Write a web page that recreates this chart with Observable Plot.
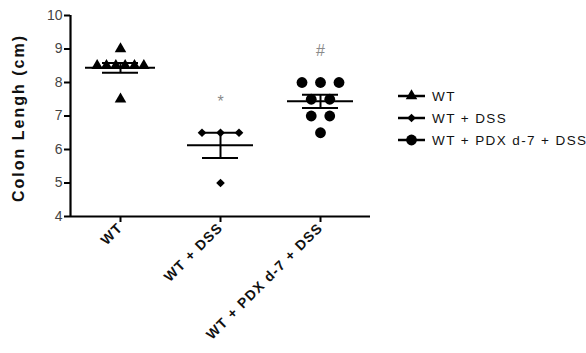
<!DOCTYPE html>
<html>
<head>
<meta charset="utf-8">
<script src="https://cdn.jsdelivr.net/npm/d3@7"></script>
<script src="https://cdn.jsdelivr.net/npm/@observablehq/plot@0.6"></script>
<style>
  html, body { margin: 0; padding: 0; background: #fff; }
  #wrap { position: relative; width: 586px; height: 353px; font-family: "Liberation Sans", Arial, sans-serif; overflow: hidden; }
  #legend { position: absolute; left: 397px; top: 85px; font-size: 13.5px; letter-spacing: 1.4px; color: #111; }
  #legend .row { display: flex; align-items: center; height: 22px; white-space: nowrap; }
  #legend svg { margin-right: 6px; }
</style>
</head>
<body>
<div id="wrap"><div id="legend"></div></div>
<script>
// ---- data ----
const groups = ["WT", "WT + DSS", "WT + PDX d-7 + DSS"];
const wt = [8.5, 8.5, 8.5, 8.5, 8.5, 8.5, 9.0, 7.5];
const wtDss = [6.5, 6.5, 6.5, 5.0];
const wtPdxDss = [8.0, 8.0, 8.0, 7.5, 7.5, 7.0, 7.0, 6.5];
const significance = ["", "*", "#"];
const yTicks = [4, 5, 6, 7, 8, 9, 10];
const yDomain = [4, 10];
const xDomain = [-0.5, 2.5];
const series = [wt, wtDss, wtPdxDss];

// ---- styles ----
const symbolNames = ["triangle", "diamond2", "circle"];
const symbolR = [4.3, 3.9, 5.4];
const meanHalf = [0.35, 0.33, 0.33];

// column-scatter layout: spread tied values horizontally
const points = groups.flatMap((g, gi) => {
  const vals = series[gi];
  const counts = d3.rollup(vals, v => v.length, d => d);
  const seen = new Map();
  return vals.map(v => {
    const n = counts.get(v);
    const k = seen.get(v) ?? 0;
    seen.set(v, k + 1);
    const sp = Math.min(0.185, 0.56 / n);
    return {group: g, gi, value: v, x: gi + (k - (n - 1) / 2) * sp};
  });
});

const stats = groups.map((g, gi) => {
  const v = series[gi];
  const mean = d3.mean(v);
  const sem = d3.deviation(v) / Math.sqrt(v.length);
  return {group: g, gi, mean, lo: mean - sem, hi: mean + sem, max: d3.max(v), label: significance[gi]};
});
const caps = stats.flatMap(s => [{gi: s.gi, y: s.lo}, {gi: s.gi, y: s.hi}]);

const chart = Plot.plot({
  width: 586,
  height: 353,
  marginLeft: 70,
  marginRight: 216,
  marginTop: 15,
  marginBottom: 137,
  style: {fontFamily: "'Liberation Sans', Arial, sans-serif", background: "transparent"},
  x: {domain: xDomain, axis: null},
  y: {domain: yDomain, axis: null},
  r: {type: "identity"},
  symbol: {type: "identity"},
  marks: [
    Plot.axisY(yTicks, {tickSize: 6, tickPadding: 2, strokeWidth: 2, fontSize: 14, label: null}),
    Plot.axisX(groups.map((_, i) => i), {tickFormat: i => groups[i], tickSize: 6, tickPadding: 3, tickRotate: -45, strokeWidth: 2, fontSize: 14, fontWeight: "bold", label: null}),
    Plot.ruleX([xDomain[0]], {y1: yDomain[0], y2: yDomain[1], strokeWidth: 2.2}),
    Plot.ruleY([yDomain[0]], {x1: xDomain[0], x2: xDomain[1], strokeWidth: 2.2}),
    Plot.ruleY(stats, {y: "mean", x1: d => d.gi - meanHalf[d.gi], x2: d => d.gi + meanHalf[d.gi], strokeWidth: 2}),
    Plot.ruleY(caps, {y: "y", x1: d => d.gi - 0.18, x2: d => d.gi + 0.18, strokeWidth: 2}),
    Plot.ruleX(stats, {x: "gi", y1: "lo", y2: "hi", strokeWidth: 2}),
    Plot.dot(points, {x: "x", y: "value", symbol: d => symbolNames[d.gi], r: d => symbolR[d.gi], fill: "#000", stroke: "none"}),
    Plot.text(stats.filter(s => s.label), {x: "gi", y: d => d.max + 0.93, text: "label", fill: "#8a8a8a", fontSize: 16})
  ]
});

// Y axis title
const svg = d3.select(chart);
svg.append("text")
  .attr("transform", "translate(24,118) rotate(-90)")
  .attr("text-anchor", "middle")
  .attr("font-size", 16)
  .attr("font-weight", "bold")
  .attr("letter-spacing", "2px")
  .attr("fill", "#111")
  .text("Colon Lengh (cm)");
svg.selectAll('[aria-label="y-axis tick label"] text').attr("fill", "#444");
svg.selectAll('[aria-label="x-axis tick label"] text').attr("fill", "#111").attr("letter-spacing", "1.2px");

document.getElementById("wrap").prepend(chart);
chart.style.position = "absolute";
chart.style.left = "0px";
chart.style.top = "0px";

// Legend (right of plot)
const legend = d3.select("#legend");
const d3sym = {triangle: d3.symbolTriangle, diamond2: d3.symbolDiamond2, circle: d3.symbolCircle};
groups.forEach((g, gi) => {
  const row = legend.append("div").attr("class", "row");
  const s = row.append("svg").attr("width", 29).attr("height", 16);
  s.append("line").attr("x1", 1).attr("x2", 28).attr("y1", 8).attr("y2", 8).attr("stroke", "#000").attr("stroke-width", 2.5);
  s.append("path").attr("transform", "translate(14.5,8)")
    .attr("d", d3.symbol(d3sym[symbolNames[gi]], Math.PI * symbolR[gi] ** 2)())
    .attr("fill", "#000");
  row.append("span").text(g);
});
</script>
</body>
</html>
